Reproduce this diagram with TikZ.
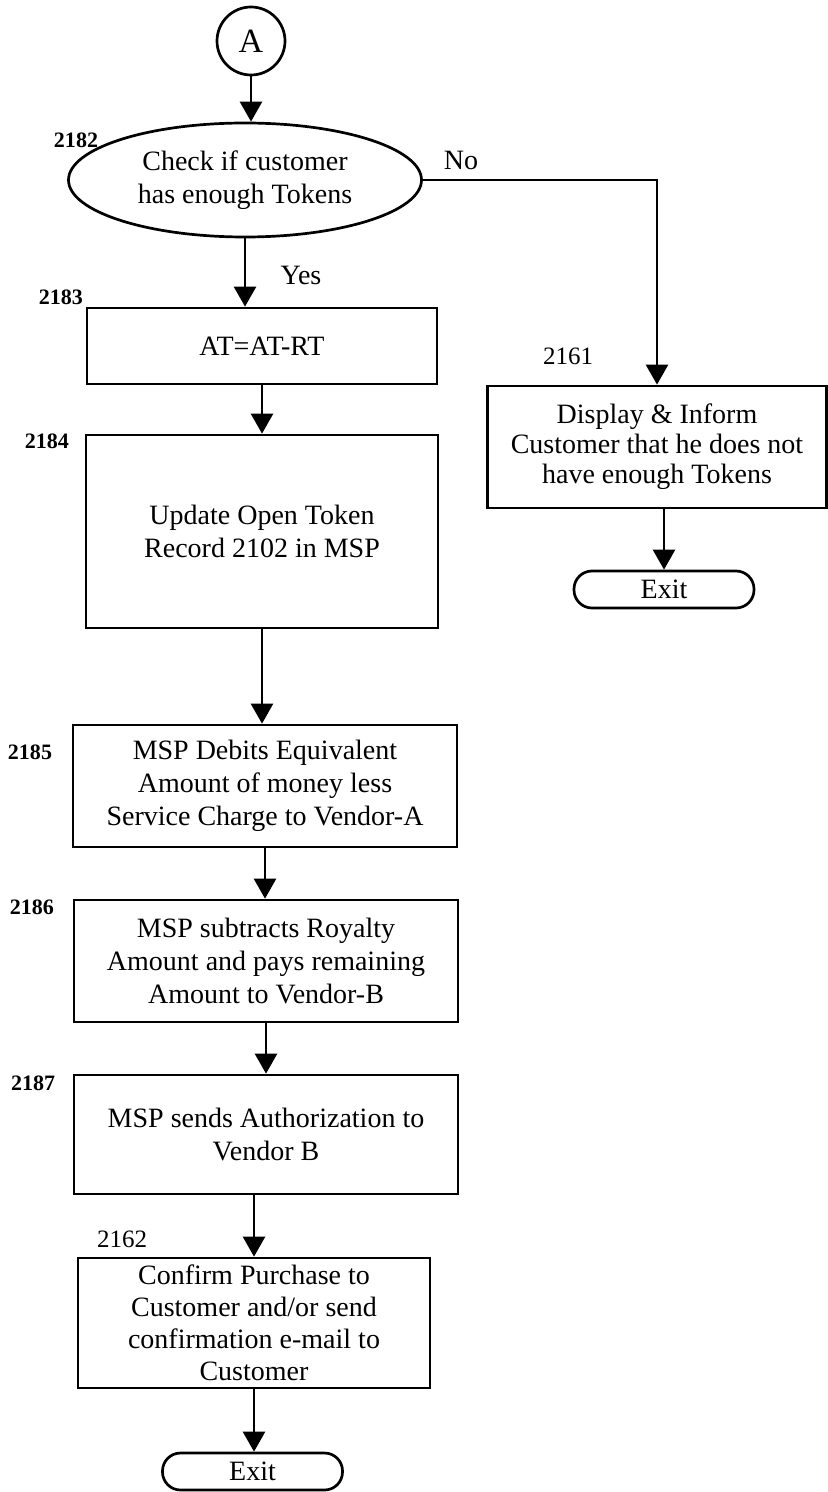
\documentclass[tikz,border=0pt]{standalone}
\usepackage{fontspec}
\setmainfont{Liberation Serif}
\usetikzlibrary{arrows.meta,shapes.geometric}
\begin{document}
\begin{tikzpicture}[x=0.5pt,y=-0.5pt,
  line width=1.35pt,
  every node/.style={font=\fontsize{14}{16.5}\selectfont},
  procbox/.style={draw, rectangle, align=center, inner sep=0pt},
  termbox/.style={draw, rectangle, rounded corners=9pt, inner sep=0pt, minimum width=90pt, minimum height=18.5pt},
  arr/.style={-{Triangle[length=10pt,width=11pt]}},
  reflabel/.style={font=\fontsize{11}{13}\selectfont\bfseries},
  numlabel/.style={font=\fontsize{12.5}{14}\selectfont}
]
\useasboundingbox (0,0) rectangle (828,1492);

\node[draw,circle,minimum size=34pt,inner sep=0pt,font=\fontsize{17}{18}\selectfont] (A) at (251,41) {A};
\node[draw,ellipse,minimum width=176.5pt,minimum height=57pt,inner sep=0pt,align=center] (chk) at (245,180) {Check if customer\\has enough Tokens};
\node[procbox,minimum width=175pt,minimum height=38pt] (b2183) at (262,346) {AT=AT-RT};
\node[procbox,minimum width=176pt,minimum height=96.5pt] (b2184) at (262,531.5) {Update Open Token\\Record 2102 in MSP};
\node[procbox,minimum width=192pt,minimum height=61pt] (b2185) at (265,786) {MSP Debits Equivalent\\Amount of money less\\Service Charge to Vendor-A};
\node[procbox,minimum width=192pt,minimum height=61pt] (b2186) at (266,961) {MSP subtracts Royalty\\Amount and pays remaining\\Amount to Vendor-B};
\node[procbox,minimum width=192pt,minimum height=59.5pt] (b2187) at (266,1134.5) {MSP sends Authorization to\\Vendor B};
\node[procbox,minimum width=176pt,minimum height=65pt,font=\fontsize{14}{16}\selectfont] (b2162) at (254,1323) {Confirm Purchase to\\Customer and/or send\\confirmation e-mail to\\Customer};
\node[termbox] (exit1) at (252.5,1471.5) {Exit};
\node[procbox,minimum width=169.5pt,minimum height=61pt,font=\fontsize{14}{15}\selectfont] (b2161) at (657,447) {Display \& Inform\\Customer that he does not\\have enough Tokens};
\node[termbox] (exit2) at (664,589.5) {Exit};

\node[reflabel] (l2182) at (76,140) {2182};
\node[reflabel] (l2183) at (61,297) {2183};
\node[reflabel] (l2184) at (47,441) {2184};
\node[reflabel] (l2185) at (30,752) {2185};
\node[reflabel] (l2186) at (32,907) {2186};
\node[reflabel] (l2187) at (33,1083) {2187};
\node[numlabel] (l2162) at (122,1239) {2162};
\node[numlabel] (l2161) at (568,356) {2161};
\node (lyes) at (301,275) {Yes};
\node (lno) at (461,160) {No};

\draw[arr] (A) -- (A |- chk.north);
\draw[arr] (chk.south) -- (chk.south |- b2183.north);
\draw[arr] (chk.east) -| (b2161.north);
\draw[arr] (b2183.south) -- (b2183.south |- b2184.north);
\draw[arr] (b2184.south) -- (b2184.south |- b2185.north);
\draw[arr] (b2185.south) -- (b2185.south |- b2186.north);
\draw[arr] (b2186.south) -- (b2186.south |- b2187.north);
\draw[arr] (b2162.north |- b2187.south) -- (b2162.north);
\draw[arr] (b2162.south) -- (b2162.south |- exit1.north);
\draw[arr] (b2161.south -| exit2.north) -- (exit2.north);
\end{tikzpicture}
\end{document}
